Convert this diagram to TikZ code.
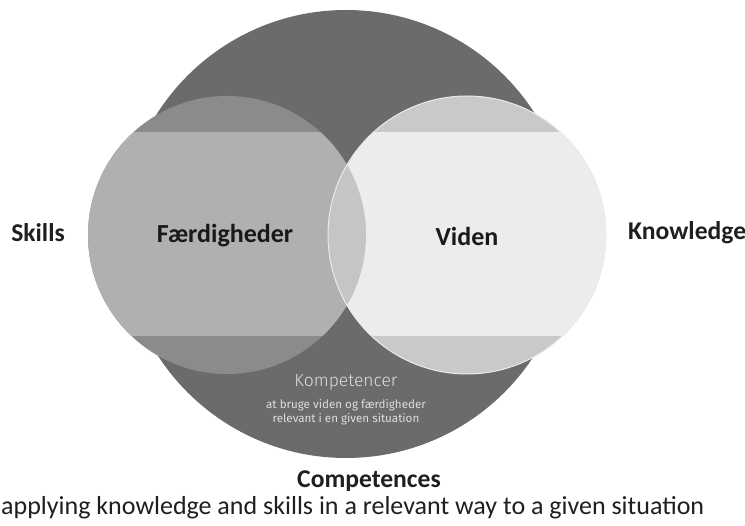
\documentclass[tikz,border=0pt]{standalone}
\usepackage{fontspec}
\setmainfont{Carlito}
\newfontfamily\thinfont{Fira Sans}[UprightFont = * Light, BoldFont = * Medium]
\newfontfamily\smallfont{Fira Sans}
\begin{document}
\begin{tikzpicture}[x=1pt,y=-1pt,
  label/.style={font=\fontsize{25.6}{30}\selectfont\bfseries, text=black!88, inner sep=0pt},
  innerlabel/.style={font=\fontsize{26}{30}\selectfont\bfseries, text=black!90, inner sep=0pt}]
  \definecolor{outer}{HTML}{6B6B6B}
  \definecolor{leftcap}{HTML}{8B8B8B}
  \definecolor{leftband}{HTML}{B0B0B0}
  \definecolor{rightcap}{HTML}{C9C9C9}
  \definecolor{rightband}{HTML}{ECECEC}
  \definecolor{lens}{HTML}{C5C5C5}
  \definecolor{softwhite}{HTML}{DEDEDE}
  \useasboundingbox[fill=white] (0,0) rectangle (745,526);
  % coordinates of the three circle centres
  \coordinate (co) at (346,234);
  \coordinate (cl) at (227,235);
  \coordinate (cr) at (467,235);
  % outer competence circle
  \fill[outer] (co) circle[radius=224pt];
  % skills circle with its lighter middle band
  \fill[leftcap] (cl) circle[radius=139pt];
  \begin{scope}
    \clip (cl) circle[radius=139pt];
    \fill[leftband] (60,132) rectangle (400,336);
  \end{scope}
  % knowledge circle with its lighter middle band
  \fill[rightcap] (cr) circle[radius=139pt];
  \begin{scope}
    \clip (cr) circle[radius=139pt];
    \fill[rightband] (300,132) rectangle (640,336);
  \end{scope}
  % overlap of the two circles
  \begin{scope}
    \clip (cl) circle[radius=139pt];
    \fill[lens] (cr) circle[radius=139pt];
  \end{scope}
  \draw[white!92!black, line width=1pt] (cr) circle[radius=139pt];
  % labels
  \node[label] (skills) at (38,233) {Skills};
  \node[label, anchor=west] (knowledge) at (628,233) {Knowledge};
  \node[innerlabel] (faerd) at (225,236) {Færdigheder};
  \node[innerlabel] (viden) at (467,236) {Viden};
  \node[text=softwhite, font=\thinfont\fontsize{17.5}{20}\selectfont, inner sep=0pt] (komp) at (346,382) {Kompetencer};
  \node[text=softwhite, font=\smallfont\fontsize{11.6}{14}\selectfont, align=center, inner sep=0pt] (kompsub) at (346,412) {at bruge viden og færdigheder\\relevant i en given situation};
  \node[label] (comp) at (369,481) {Competences};
  \node[font=\fontsize{26}{30}\selectfont, text=black!88, inner sep=0pt, anchor=west] (desc) at (1,508) {applying knowledge and skills in a relevant way to a given situation};
\end{tikzpicture}
\end{document}
